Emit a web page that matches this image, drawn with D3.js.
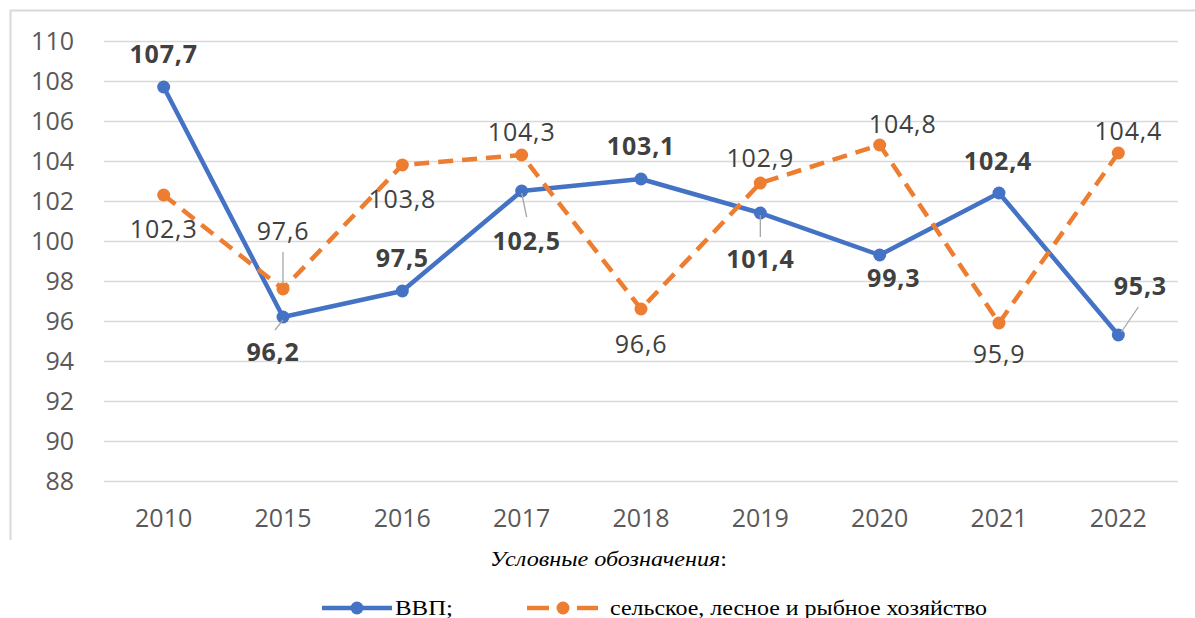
<!DOCTYPE html>
<html>
<head>
<meta charset="utf-8">
<script src="https://cdn.jsdelivr.net/npm/d3@7"></script>
<style>
  html, body { margin: 0; padding: 0; background: #fff; }
  svg { display: block; }
</style>
</head>
<body>
<svg id="chart" width="1195" height="618"></svg>
<script>
// ---- data ----
const years = ["2010", "2015", "2016", "2017", "2018", "2019", "2020", "2021", "2022"];
const gdp = [107.7, 96.2, 97.5, 102.5, 103.1, 101.4, 99.3, 102.4, 95.3];
const agri = [102.3, 97.6, 103.8, 104.3, 96.6, 102.9, 104.8, 95.9, 104.4];
const yTicks = [88, 90, 92, 94, 96, 98, 100, 102, 104, 106, 108, 110];
const seriesNames = ["ВВП;", "сельское, лесное и рыбное хозяйство"];
const legendTitle = "Условные обозначения";

// ---- label layout (offsets from the point, px) ----
const gdpLabelPos = [[0,-24],[-10,44],[0,-24],[5,59],[0,-24],[0,55],[14,32],[-1,-23],[22,-40]];
const agriLabelPos = [[0,43],[0,-49],[0,43],[0,-14],[0,44],[0,-16],[23,-12],[0,40],[10,-13]];
const gdpLeaders = {1:[0,3,-8,13], 3:[0,2,5,26], 5:[0,2,0,24], 8:[3,-3,20,-28]};
const agriLeaders = {1:[0,-37,0,-5]};

const svg = d3.select("#chart");
const blue = "#4472C4", orange = "#ED7D31";
const numFont = "'Open Sans', 'Noto Sans', sans-serif";

// frame
svg.append("path").attr("d", "M10.5,540 L10.5,10.5 L1195,10.5")
  .attr("fill", "none").attr("stroke", "#d9d9d9").attr("stroke-width", 2);

const x = d3.scaleBand().domain(years).range([104, 1178]);
const y = d3.scaleLinear().domain([88, 110]).range([481, 41]);
const cx = d => x(d) + x.bandwidth() / 2;

// gridlines
svg.append("g").selectAll("line").data(yTicks).join("line")
  .attr("x1", 104).attr("x2", 1178)
  .attr("y1", d => Math.round(y(d)) + 0.5).attr("y2", d => Math.round(y(d)) + 0.5)
  .attr("stroke", "#d9d9d9").attr("stroke-width", 1.5);

// y axis labels
const yAxis = d3.axisLeft(y).tickValues(yTicks).tickSize(0).tickPadding(0);
const gy = svg.append("g").attr("transform", "translate(74,0)").call(yAxis);
gy.select(".domain").remove();
gy.selectAll("text").attr("font-family", numFont).attr("font-size", 25)
  .attr("fill", "#595959");

// x axis labels
const xAxis = d3.axisBottom(x).tickSize(0).tickPadding(0);
const gx = svg.append("g").attr("transform", "translate(0,508)").call(xAxis);
gx.select(".domain").remove();
gx.selectAll("text").attr("font-family", numFont).attr("font-size", 25)
  .attr("fill", "#595959").attr("dy", "0").attr("y", 19);

const line = d3.line().x((d, i) => cx(years[i])).y(d => y(d));

// GDP series
svg.append("path").datum(gdp).attr("d", line)
  .attr("fill", "none").attr("stroke", blue).attr("stroke-width", 4.5)
  .attr("stroke-linejoin", "round");
// agri series
svg.append("path").datum(agri).attr("d", line)
  .attr("fill", "none").attr("stroke", orange).attr("stroke-width", 4.5)
  .attr("stroke-dasharray", "15,9");

svg.append("g").selectAll("circle").data(gdp).join("circle")
  .attr("cx", (d, i) => cx(years[i])).attr("cy", d => y(d)).attr("r", 6.5)
  .attr("fill", blue);
svg.append("g").selectAll("circle").data(agri).join("circle")
  .attr("cx", (d, i) => cx(years[i])).attr("cy", d => y(d)).attr("r", 6.5)
  .attr("fill", orange);

// leader lines
function leaders(vals, map) {
  Object.keys(map).forEach(k => {
    const i = +k, o = map[k];
    const px = cx(years[i]), py = y(vals[i]);
    svg.append("line").attr("x1", px + o[0]).attr("y1", py + o[1])
      .attr("x2", px + o[2]).attr("y2", py + o[3])
      .attr("stroke", "#a6a6a6").attr("stroke-width", 1.3);
  });
}
leaders(gdp, gdpLeaders);
leaders(agri, agriLeaders);

const fmt = v => d3.format(".1f")(v).replace(".", ",");

function labels(vals, pos, bold) {
  svg.append("g").selectAll("text").data(vals).join("text")
    .attr("x", (d, i) => cx(years[i]) + pos[i][0])
    .attr("y", (d, i) => y(d) + pos[i][1])
    .attr("text-anchor", "middle")
    .attr("font-family", numFont).attr("font-size", 25)
    .attr("font-weight", bold ? 700 : 400)
    .attr("letter-spacing", 0.8)
    .attr("fill", "#404040")
    .text(fmt);
}
labels(gdp, gdpLabelPos, true);
labels(agri, agriLabelPos, false);

// legend
const serif = "'Liberation Serif', 'Times New Roman', serif";
svg.append("text").attr("x", 490).attr("y", 566)
  .attr("font-family", serif).attr("font-size", 20).attr("fill", "#000")
  .attr("textLength", 237).attr("lengthAdjust", "spacingAndGlyphs")
  .html("<tspan font-style='italic'>" + legendTitle + "</tspan>:");

const lg = svg.append("g");
lg.append("line").attr("x1", 322).attr("x2", 392).attr("y1", 608).attr("y2", 608)
  .attr("stroke", blue).attr("stroke-width", 4.5);
lg.append("circle").attr("cx", 357).attr("cy", 608).attr("r", 6.5).attr("fill", blue);
lg.append("text").attr("x", 395).attr("y", 615)
  .attr("font-family", serif).attr("font-size", 20).attr("fill", "#000")
  .attr("textLength", 58).attr("lengthAdjust", "spacingAndGlyphs")
  .text(seriesNames[0]);

lg.append("line").attr("x1", 527).attr("x2", 549).attr("y1", 608).attr("y2", 608)
  .attr("stroke", orange).attr("stroke-width", 4.5);
lg.append("line").attr("x1", 577).attr("x2", 598).attr("y1", 608).attr("y2", 608)
  .attr("stroke", orange).attr("stroke-width", 4.5);
lg.append("circle").attr("cx", 563).attr("cy", 608).attr("r", 6.5).attr("fill", orange);
lg.append("text").attr("x", 610).attr("y", 615)
  .attr("font-family", serif).attr("font-size", 20).attr("fill", "#000")
  .attr("textLength", 377).attr("lengthAdjust", "spacingAndGlyphs")
  .text(seriesNames[1]);
</script>
</body>
</html>
